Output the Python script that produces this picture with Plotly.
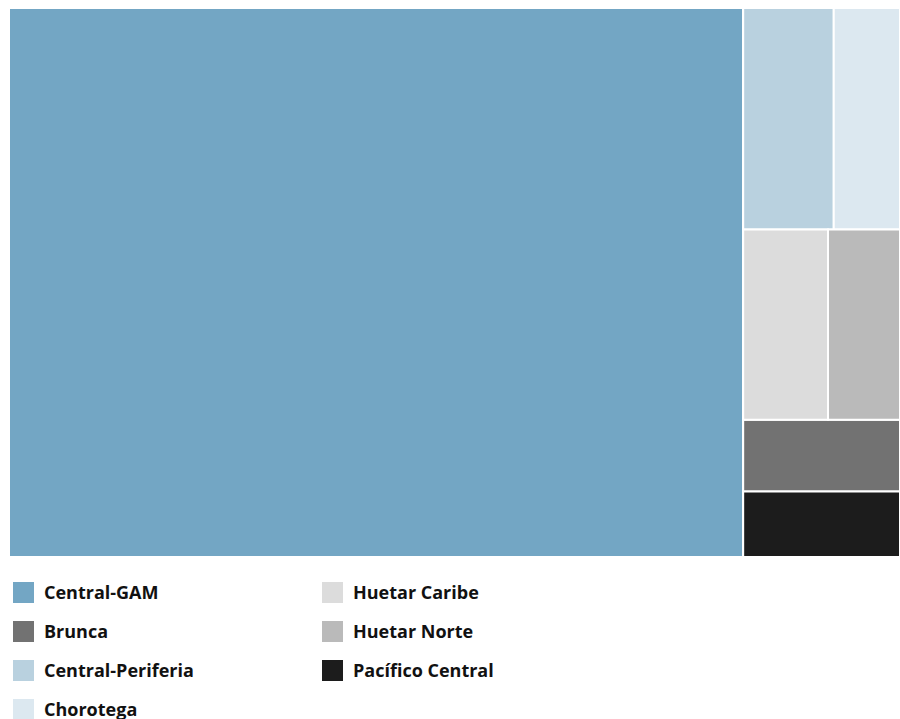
import plotly.graph_objects as go

# --- data ---
regions = ["Central-GAM", "Central-Periferia", "Chorotega", "Huetar Caribe",
           "Huetar Norte", "Brunca", "Pacífico Central"]
shares = [82.4, 4.1, 3.0, 3.3, 2.8, 2.3, 2.1]
region_colors = ["#73a6c4", "#b9d1df", "#dce8f0", "#dcdcdc", "#bababa", "#727272", "#1c1c1c"]
# grouping used only to arrange the tiles as in the original
region_parent = ["Total", "Fila1", "Fila1", "Fila2", "Fila2", "Resto", "Resto"]
group_ids = ["Resto", "Fila1", "Fila2"]
group_parent = ["Total", "Resto", "Resto"]

legend_order = ["Central-GAM", "Brunca", "Central-Periferia", "Chorotega",
                "Huetar Caribe", "Huetar Norte", "Pacífico Central"]

# --- build hierarchy values ---
val = dict(zip(regions, shares))
fila1 = val["Central-Periferia"] + val["Chorotega"]
fila2 = val["Huetar Caribe"] + val["Huetar Norte"]
resto = fila1 + fila2 + val["Brunca"] + val["Pacífico Central"]
total = val["Central-GAM"] + resto
group_values = [resto, fila1, fila2]
cmap = dict(zip(regions, region_colors))

# order: root, GAM, right column, its rows, then the rest
ids = ["Total", regions[0]] + group_ids + regions[1:]
parents = ["", region_parent[0]] + group_parent + region_parent[1:]
values = [total, shares[0]] + group_values + shares[1:]
colors = ["#ffffff", region_colors[0]] + ["#ffffff"] * len(group_ids) + region_colors[1:]

W, H = 900, 719

fig = go.Figure(go.Treemap(
    ids=ids, labels=ids, parents=parents, values=values,
    branchvalues="total", sort=False,
    textinfo="none", hoverinfo="skip",
    marker=dict(colors=colors, line=dict(color="white", width=2),
                pad=dict(t=0, l=0, r=0, b=0)),
    tiling=dict(packing="slice-dice", pad=0),
    pathbar=dict(visible=False),
    domain=dict(x=[9 / W, 1.0], y=[1 - 557 / H, 1 - 8 / H]),
))

shapes = []
annotations = []
col_x = [13, 322]
row_y = [592.5, 631.5, 670.5, 709.5]
for i, name in enumerate(legend_order):
    c = 0 if i < 4 else 1
    r = i if i < 4 else i - 4
    x0 = col_x[c]
    yc = row_y[r]
    shapes.append(dict(type="rect", xref="paper", yref="paper",
                       x0=x0 / W, x1=(x0 + 21) / W,
                       y0=1 - (yc + 10.5) / H, y1=1 - (yc - 10.5) / H,
                       fillcolor=cmap[name], line=dict(width=0), layer="above"))
    annotations.append(dict(xref="paper", yref="paper", x=(x0 + 29) / W, y=1 - (yc - 0.5) / H,
                            text="<b>" + name + "</b>", showarrow=False,
                            xanchor="left", yanchor="middle",
                            font=dict(family="Open Sans", size=18, color="#111111")))

fig.update_layout(width=W, height=H, margin=dict(l=0, r=0, t=0, b=0),
                  paper_bgcolor="white", plot_bgcolor="white",
                  shapes=shapes, annotations=annotations, showlegend=False)

fig.write_html("out.html",
               config={"displayModeBar": False},
               post_script="document.body.style.margin='0';"
                           "document.body.style.overflow='hidden';")
